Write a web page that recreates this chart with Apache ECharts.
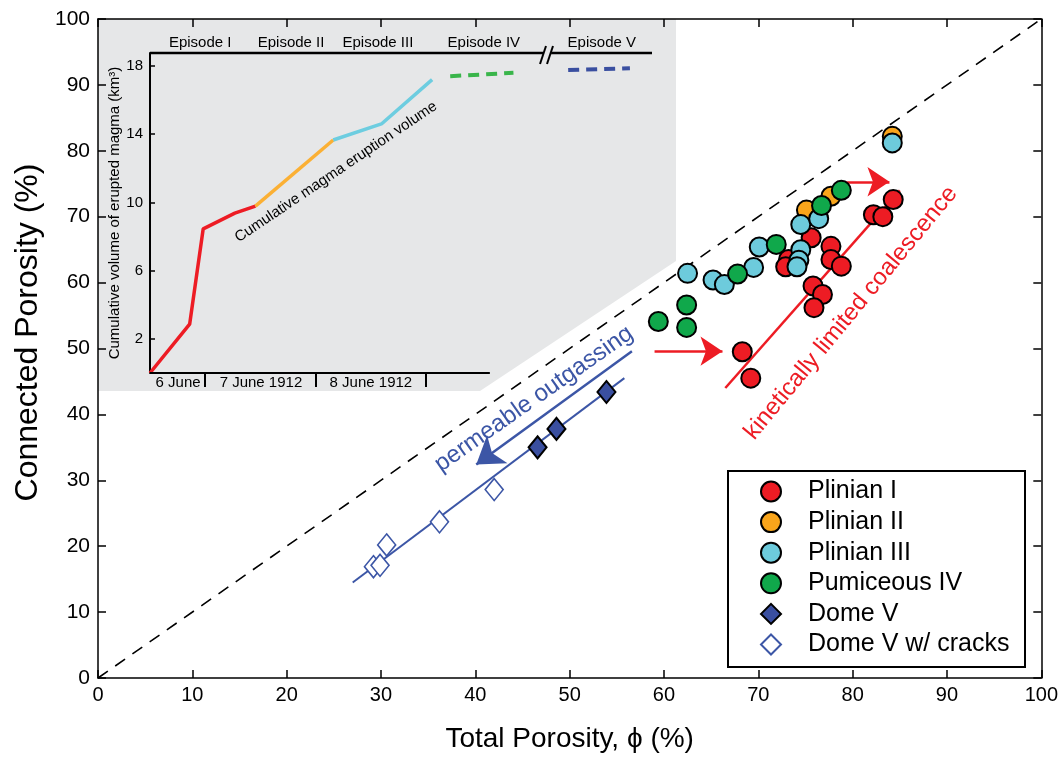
<!DOCTYPE html>
<html><head><meta charset="utf-8">
<script src="https://cdn.jsdelivr.net/npm/echarts@6/dist/echarts.min.js"></script>
<style>html,body{margin:0;padding:0;background:#fff}#c{width:1061px;height:758px}</style>
</head><body><div id="c"></div>
<script>
const FONT = "'Liberation Sans', Arial, Helvetica, sans-serif";

// ---- Main chart data: [total porosity %, connected porosity %]
const plinianI = [[68.3,49.5],[69.2,45.5],[73.2,63.5],[72.9,62.4],[75.6,66.8],[77.7,65.5],[77.7,63.5],[78.8,62.5],[75.8,59.5],[76.8,58.2],[75.9,56.2],[82.2,70.3],[83.2,70.0],[84.3,72.6]];
const plinianII = [[75.1,71.0],[77.7,73.1],[84.2,82.2]];
const plinianIII = [[62.5,61.4],[65.2,60.4],[66.4,59.7],[69.5,62.3],[70.1,65.4],[74.5,68.8],[76.4,69.7],[74.5,65.0],[74.3,63.4],[74.1,62.4],[84.2,81.2]];
const pumiceousIV = [[59.4,54.1],[62.4,56.6],[62.4,53.2],[67.8,61.3],[71.9,65.8],[76.7,71.7],[78.8,74.0]];
const domeV = [[46.6,35.0],[48.6,37.8],[53.9,43.4]];
const domeVCracks = [[29.2,16.9],[29.9,17.1],[30.6,20.2],[36.2,23.7],[42.0,28.6]];

// reference / annotation lines (data coords)
const equalityLine = [[0,0],[100,100]];
const domeFitLine = [[27.0,14.5],[55.8,45.5]];
const outgassingArrow = [[56.6,49.6],[40.1,32.4]];
const coalescenceLine = [[66.5,44.0],[85.0,74.0]];
const coalescenceArrowLow = [[59.0,49.6],[66.2,49.6]];
const coalescenceArrowHigh = [[78.9,75.3],[83.9,75.3]];

// ---- Inset data: [time position (arbitrary 0-100), cumulative volume km3]
const insetEpisodeI = [[0,0],[7.9,2.86],[10.6,8.45],[16.9,9.37],[21.0,9.78]];
const insetEpisodeII = [[21.0,9.78],[36.5,13.66]];
const insetEpisodeIII = [[36.5,13.66],[46.1,14.6],[56.2,17.2]];
const insetEpisodeIV = [[59.8,17.4],[72.4,17.6]];
const insetEpisodeV = [[83.3,17.76],[95.6,17.86]];
const insetYTicks = [2,6,10,14,18];
const insetYMax = 18.76;
const dateLabels = ['6 June','7 June 1912','8 June 1912'];
const datePos = [5.6,22.1,44.0];
const dateTickPos = [11.0,33.1,55.0];
const episodeLabels = ['Episode I','Episode II','Episode III','Episode IV','Episode V'];
const episodePos = [10.0,28.1,45.4,66.5,90.0];
const insetTopLineA = [[0,insetYMax],[78.3,insetYMax]];
const insetTopLineB = [[79.9,insetYMax],[100,insetYMax]];
const insetBottomLine = [[0,0],[67.7,0]];

const C = {red:'#ed1c24', orange:'#f9a51b', cyan:'#6dcbdc', green:'#10a84b', navy:'#3a4fa0', blue:'#3c56a6'};

function lookup(vals, labels){
  return function(v){ for (let i=0;i<vals.length;i++){ if (Math.abs(vals[i]-v)<1e-6) return labels[i]; } return ''; };
}

const chart = echarts.init(document.getElementById('c'));

const axisLineBlack = {show:true, onZero:false, lineStyle:{color:'#000', width:1.5}};
const tickIn = {show:true, inside:true, length:8, lineStyle:{color:'#000', width:1.5}};

const scatterBase = (name, data, color, symbol, size, border, bw) => ({
  name, type:'scatter', xAxisIndex:0, yAxisIndex:0, data, symbol, symbolSize:size,
  itemStyle:{color, borderColor:border, borderWidth:bw, opacity:1}, z:6, silent:true
});

const arrowMark = (color, size, pairs) => ({
  silent:true, animation:false, symbol:['none','arrow'], symbolSize:size, label:{show:false},
  lineStyle:{color, width:2.5, type:'solid'}, emphasis:{disabled:true},
  data:pairs.map(p => [{coord:p[0]},{coord:p[1]}])
});

const option = {
  animation:false,
  textStyle:{fontFamily:FONT},
  grid:[
    {left:98, right:19, top:19, bottom:78},
    {left:150, top:53, width:502, height:320}
  ],
  xAxis:[
    {type:'value', gridIndex:0, min:0, max:100, interval:10, position:'bottom',
     axisLine:axisLineBlack, axisTick:tickIn, splitLine:{show:false},
     axisLabel:{color:'#000', fontSize:20, margin:7, fontFamily:FONT},
     name:'Total Porosity, \u03d5 (%)', nameLocation:'middle', nameGap:47,
     nameTextStyle:{color:'#000', fontSize:28, fontFamily:FONT}, z:3},
    {type:'value', gridIndex:0, min:0, max:100, interval:10, position:'top',
     axisLine:axisLineBlack, axisTick:tickIn, splitLine:{show:false}, axisLabel:{show:false}, z:3},
    {type:'value', gridIndex:1, min:0, max:100, position:'bottom',
     axisLine:{show:false}, splitLine:{show:false},
     axisTick:{show:true, inside:false, length:14, customValues:dateTickPos, lineStyle:{color:'#000', width:2}},
     axisLabel:{show:true, customValues:datePos, formatter:lookup(datePos,dateLabels), color:'#000', fontSize:15, margin:2, fontFamily:FONT}, z:5},
    {type:'value', gridIndex:1, min:0, max:100, position:'top',
     axisLine:{show:false}, splitLine:{show:false}, axisTick:{show:false},
     axisLabel:{show:true, customValues:episodePos, formatter:lookup(episodePos,episodeLabels), color:'#000', fontSize:15, margin:3, fontFamily:FONT}, z:5}
  ],
  yAxis:[
    {type:'value', gridIndex:0, min:0, max:100, interval:10, position:'left',
     axisLine:axisLineBlack, axisTick:tickIn, splitLine:{show:false},
     axisLabel:{color:'#000', fontSize:21, margin:8, fontFamily:FONT},
     name:'Connected Porosity (%)', nameLocation:'middle', nameGap:54,
     nameTextStyle:{color:'#000', fontSize:32, fontFamily:FONT, padding:[0,0,0,32]}, z:3},
    {type:'value', gridIndex:0, min:0, max:100, interval:10, position:'right',
     axisLine:axisLineBlack, axisTick:tickIn, splitLine:{show:false}, axisLabel:{show:false}, z:3},
    {type:'value', gridIndex:1, min:0, max:insetYMax, position:'left',
     axisLine:{show:true, onZero:false, lineStyle:{color:'#000', width:2}}, splitLine:{show:false},
     axisTick:{show:true, inside:true, length:5, customValues:insetYTicks, lineStyle:{color:'#000', width:1.5}},
     axisLabel:{show:true, customValues:insetYTicks, color:'#000', fontSize:15, margin:7, fontFamily:FONT},
     name:'Cumulative volume of erupted magma (km\u00b3)', nameLocation:'middle', nameGap:24,
     nameTextStyle:{color:'#000', fontSize:15, fontFamily:FONT}, z:5}
  ],
  legend:{
    show:true, orient:'vertical', left:755, top:474, itemWidth:20, itemHeight:20, itemGap:5.6,
    selectedMode:false, z:8,
    textStyle:{color:'#000', fontSize:25, fontFamily:FONT, padding:[0,0,0,22]},
    data:['Plinian I','Plinian II','Plinian III','Pumiceous IV','Dome V','Dome V w/ cracks']
  },
  series:[
    {type:'line', name:'equality', xAxisIndex:0, yAxisIndex:0, data:equalityLine, symbol:'none', silent:true, z:1,
     lineStyle:{color:'#000', width:1.6, type:[12,9]}},
    {type:'line', name:'domefit', xAxisIndex:0, yAxisIndex:0, data:domeFitLine, symbol:'none', silent:true, z:4,
     lineStyle:{color:C.blue, width:2},
     markLine:arrowMark(C.blue, 26, [outgassingArrow])},
    {type:'line', name:'coal', xAxisIndex:0, yAxisIndex:0, data:coalescenceLine, symbol:'none', silent:true, z:4,
     lineStyle:{color:C.red, width:2.5},
     markLine:arrowMark(C.red, 22, [coalescenceArrowLow, coalescenceArrowHigh])},
    scatterBase('Plinian I', plinianI, C.red, 'circle', 19, '#000', 2),
    scatterBase('Plinian II', plinianII, C.orange, 'circle', 19, '#000', 2),
    scatterBase('Plinian III', plinianIII, C.cyan, 'circle', 19, '#000', 2),
    scatterBase('Pumiceous IV', pumiceousIV, C.green, 'circle', 19, '#000', 2),
    scatterBase('Dome V', domeV, C.navy, 'diamond', [18,22], '#000', 2),
    scatterBase('Dome V w/ cracks', domeVCracks, '#fff', 'diamond', [18,22], C.blue, 1.6),
    // inset
    {type:'line', xAxisIndex:2, yAxisIndex:2, data:insetEpisodeI, symbol:'none', silent:true, z:7, clip:false, lineStyle:{color:C.red, width:3.5}},
    {type:'line', xAxisIndex:2, yAxisIndex:2, data:insetEpisodeII, symbol:'none', silent:true, z:7, clip:false, lineStyle:{color:'#fbb034', width:3.5}},
    {type:'line', xAxisIndex:2, yAxisIndex:2, data:insetEpisodeIII, symbol:'none', silent:true, z:7, clip:false, lineStyle:{color:'#6dcde0', width:3.5}},
    {type:'line', xAxisIndex:2, yAxisIndex:2, data:insetEpisodeIV, symbol:'none', silent:true, z:7, clip:false, lineStyle:{color:'#39b54a', width:4, type:[11,7]}},
    {type:'line', xAxisIndex:2, yAxisIndex:2, data:insetEpisodeV, symbol:'none', silent:true, z:7, clip:false, lineStyle:{color:C.navy, width:4, type:[11,7]}},
    {type:'line', xAxisIndex:2, yAxisIndex:2, data:insetTopLineA, symbol:'none', silent:true, z:7, clip:false, lineStyle:{color:'#000', width:2.5}},
    {type:'line', xAxisIndex:2, yAxisIndex:2, data:insetTopLineB, symbol:'none', silent:true, z:7, clip:false, lineStyle:{color:'#000', width:2.5}},
    {type:'line', xAxisIndex:2, yAxisIndex:2, data:insetBottomLine, symbol:'none', silent:true, z:7, clip:false, lineStyle:{color:'#000', width:2}}
  ],
  graphic:[
    {type:'polygon', z:1.5, silent:true, shape:{points:[[98,19],[676,19],[676,261],[480,391],[98,391]]}, style:{fill:'#e6e7e8'}},
    {type:'line', z:8, silent:true, shape:{x1:540,y1:64,x2:546,y2:46}, style:{stroke:'#000', lineWidth:2}},
    {type:'line', z:8, silent:true, shape:{x1:547,y1:64,x2:553,y2:46}, style:{stroke:'#000', lineWidth:2}},
    {type:'rect', z:7, silent:true, shape:{x:728,y:471,width:297,height:196}, style:{fill:'#fff', stroke:'#000', lineWidth:2}},
    {type:'text', z:8, silent:true, x:336, y:172, rotation:34*Math.PI/180,
     style:{text:'Cumulative magma eruption volume', fill:'#000', font:'15px '+FONT, align:'center', verticalAlign:'middle'}},
    {type:'text', z:8, silent:true, x:534, y:399, rotation:35*Math.PI/180,
     style:{text:'permeable outgassing', fill:C.blue, font:'24px '+FONT, align:'center', verticalAlign:'middle'}},
    {type:'text', z:8, silent:true, x:851, y:313, rotation:50.5*Math.PI/180,
     style:{text:'kinetically limited coalescence', fill:C.red, font:'24px '+FONT, align:'center', verticalAlign:'middle'}}
  ]
};
chart.setOption(option);
</script></body></html>
